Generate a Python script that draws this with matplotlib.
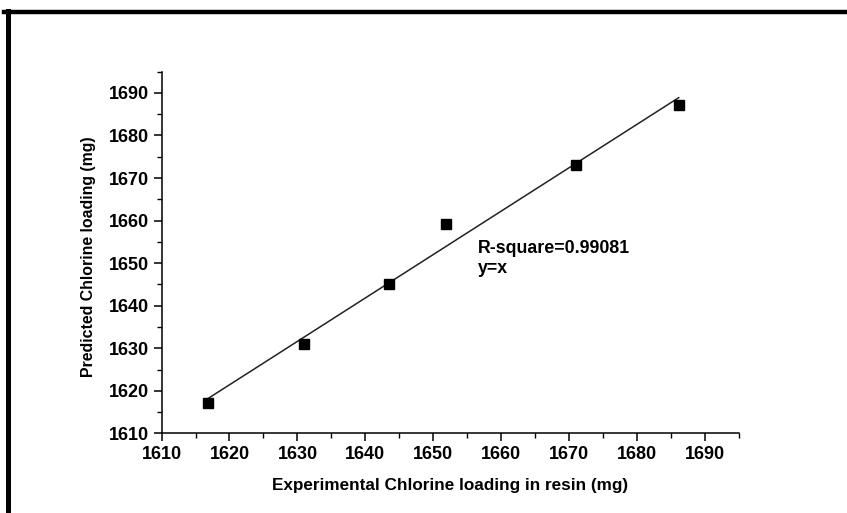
import numpy as np
import matplotlib
matplotlib.use("Agg")
import matplotlib.pyplot as plt
from matplotlib.lines import Line2D
from matplotlib.ticker import MultipleLocator

# experimental vs predicted chlorine loading (mg)
experimental = [1616.8, 1630.9, 1643.5, 1651.9, 1671.0, 1686.1]
predicted = [1617.1, 1631.1, 1645.0, 1659.1, 1673.0, 1687.1]
r_square_text = "R-square=0.99081"
fit_text = "y=x"

plt.rcParams['font.family'] = ['Liberation Sans', 'DejaVu Sans']
plt.rcParams['font.weight'] = 'bold'

fig = plt.figure(figsize=(8.47, 5.13), dpi=100)
ax = fig.add_axes([0.1907, 0.1553, 0.682, 0.705])

# linear fit through the points
k, b = np.polyfit(experimental, predicted, 1)
xs = np.array([min(experimental), max(experimental)])
ax.plot(xs, k * xs + b, color='#222222', lw=1.1, zorder=2)
ax.plot(experimental, predicted, 's', color='black', ms=7, zorder=3)

ax.set_xlim(1610, 1695)
ax.set_ylim(1610, 1695)
ax.xaxis.set_major_locator(MultipleLocator(10))
ax.yaxis.set_major_locator(MultipleLocator(10))
ax.xaxis.set_minor_locator(MultipleLocator(5))
ax.yaxis.set_minor_locator(MultipleLocator(5))
ax.tick_params(which='major', direction='out', length=6, width=1.1, labelsize=13, pad=3)
ax.tick_params(which='minor', direction='out', length=3.5, width=1.0)
for lab in ax.get_xticklabels() + ax.get_yticklabels():
    lab.set_fontweight('bold')

ax.spines['top'].set_visible(False)
ax.spines['right'].set_visible(False)
ax.spines['left'].set_linewidth(1.1)
ax.spines['bottom'].set_linewidth(1.1)

ax.set_xlabel('Experimental Chlorine loading in resin (mg)', fontsize=12.3,
              fontweight='bold', labelpad=11)
ax.set_ylabel('Predicted Chlorine loading (mg)', fontsize=11.4,
              fontweight='bold', labelpad=9)
ax.yaxis.label.set_y(0.489)

ax.text(1656.6, 1653.5, r_square_text, fontsize=12.8, fontweight='bold', va='center')
ax.text(1656.6, 1648.8, fit_text, fontsize=12.8, fontweight='bold', va='center')

# outer frame (top and left edges)
H = 513.0
fig.add_artist(Line2D([4 / 847, 1.0], [1 - 12.3 / H, 1 - 12.3 / H],
                      transform=fig.transFigure, color='black', lw=3.2))
fig.add_artist(Line2D([8.2 / 847, 8.2 / 847], [1 - 10.5 / H, 0.0],
                      transform=fig.transFigure, color='black', lw=3.6))

fig.savefig('out.png', dpi=100)
